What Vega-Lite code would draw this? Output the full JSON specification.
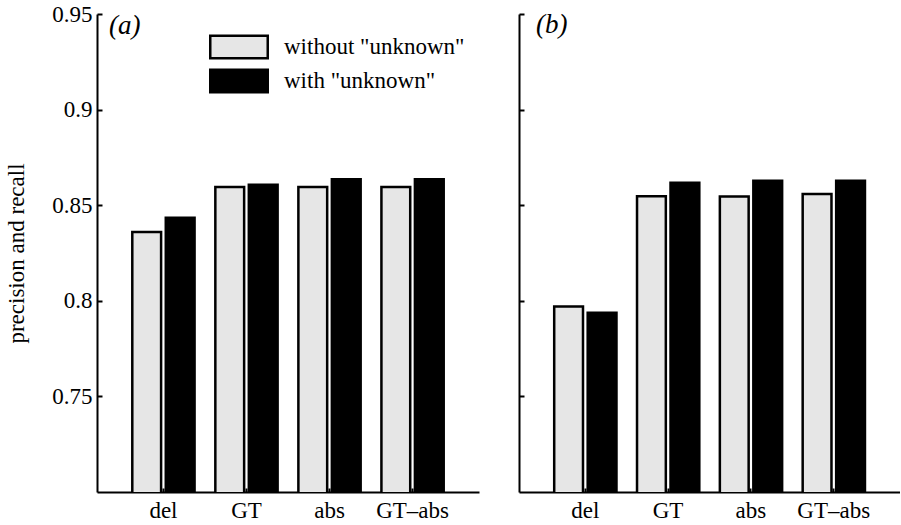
{
  "$schema": "https://vega.github.io/schema/vega-lite/v6.json",
  "padding": {"left": 5, "top": 3, "right": 0, "bottom": 0},
  "bounds": "flush",
  "spacing": 40,
  "background": "white",
  "data": {"values": [
    {"panel": "a", "method": "del", "cond": "without \"unknown\"", "value": 0.836},
    {"panel": "a", "method": "del", "cond": "with \"unknown\"", "value": 0.8435},
    {"panel": "a", "method": "GT", "cond": "without \"unknown\"", "value": 0.8595},
    {"panel": "a", "method": "GT", "cond": "with \"unknown\"", "value": 0.8607},
    {"panel": "a", "method": "abs", "cond": "without \"unknown\"", "value": 0.8595},
    {"panel": "a", "method": "abs", "cond": "with \"unknown\"", "value": 0.8636},
    {"panel": "a", "method": "GT–abs", "cond": "without \"unknown\"", "value": 0.8595},
    {"panel": "a", "method": "GT–abs", "cond": "with \"unknown\"", "value": 0.8636},
    {"panel": "b", "method": "del", "cond": "without \"unknown\"", "value": 0.797},
    {"panel": "b", "method": "del", "cond": "with \"unknown\"", "value": 0.7938},
    {"panel": "b", "method": "GT", "cond": "without \"unknown\"", "value": 0.8547},
    {"panel": "b", "method": "GT", "cond": "with \"unknown\"", "value": 0.8617},
    {"panel": "b", "method": "abs", "cond": "without \"unknown\"", "value": 0.8545},
    {"panel": "b", "method": "abs", "cond": "with \"unknown\"", "value": 0.8628},
    {"panel": "b", "method": "GT–abs", "cond": "without \"unknown\"", "value": 0.8558},
    {"panel": "b", "method": "GT–abs", "cond": "with \"unknown\"", "value": 0.8628}
  ]},
  "config": {
    "font": "Liberation Serif",
    "view": {"stroke": null},
    "axis": {"domainColor": "black", "domainWidth": 2, "tickColor": "black", "tickWidth": 2, "labelColor": "black", "labelFont": "Liberation Serif", "labelFontSize": 23, "grid": false, "titleFont": "Liberation Serif", "titleFontSize": 23, "titleFontWeight": "normal", "titleColor": "black"},
    "title": {"font": "Liberation Serif", "fontSize": 27, "fontStyle": "italic", "fontWeight": "normal", "color": "black", "anchor": "start", "frame": "group"}
  },
  "resolve": {"legend": {"color": "independent"}},
  "hconcat": [
    {
      "width": 382, "height": 478,
      "title": {"text": "(a)", "dx": 12, "offset": -37},
      "transform": [{"filter": "datum.panel === 'a'"}],
      "mark": {"type": "bar", "stroke": "black", "strokeWidth": 2.5, "clip": true},
      "encoding": {
        "x": {"field": "method", "type": "nominal", "sort": ["del", "GT", "abs", "GT–abs"], "scale": {"paddingInner": 0.25, "paddingOuter": 0.425}, "axis": {"title": null, "labelAngle": 0, "tickSize": -4, "labelPadding": 11}},
        "xOffset": {"field": "cond", "type": "nominal", "sort": ["without \"unknown\"", "with \"unknown\""], "scale": {"paddingInner": 0.14}},
        "y": {"field": "value", "type": "quantitative", "scale": {"domain": [0.7, 0.95], "zero": false, "nice": false}, "axis": {"values": [0.75, 0.8, 0.85, 0.9, 0.95], "format": ".2~f", "title": "precision and recall", "tickSize": -5, "labelPadding": 10, "titlePadding": 23}},
        "color": {"field": "cond", "type": "nominal", "sort": ["without \"unknown\"", "with \"unknown\""], "scale": {"domain": ["without \"unknown\"", "with \"unknown\""], "range": ["#e6e6e6", "#000000"]},
          "legend": {"orient": "none", "legendX": 126, "legendY": 17, "title": null, "symbolType": "M-2,-0.78H2V0.78H-2Z", "symbolSize": 826, "symbolStrokeColor": "black", "symbolStrokeWidth": 2.5, "symbolOpacity": 1, "labelFont": "Liberation Serif", "labelFontSize": 23, "labelColor": "black", "labelOffset": 29, "labelLimit": 0, "rowPadding": 0, "padding": 0}}
      }
    },
    {
      "width": 381, "height": 478,
      "title": {"text": "(b)", "dx": 17, "offset": -26},
      "transform": [{"filter": "datum.panel === 'b'"}],
      "mark": {"type": "bar", "stroke": "black", "strokeWidth": 2.5, "clip": true},
      "encoding": {
        "x": {"field": "method", "type": "nominal", "sort": ["del", "GT", "abs", "GT–abs"], "scale": {"paddingInner": 0.25, "paddingOuter": 0.425}, "axis": {"title": null, "labelAngle": 0, "tickSize": -4, "labelPadding": 11}},
        "xOffset": {"field": "cond", "type": "nominal", "sort": ["without \"unknown\"", "with \"unknown\""], "scale": {"paddingInner": 0.14}},
        "y": {"field": "value", "type": "quantitative", "scale": {"domain": [0.7, 0.95], "zero": false, "nice": false}, "axis": {"values": [0.75, 0.8, 0.85, 0.9, 0.95], "labels": false, "title": null, "tickSize": -5}},
        "color": {"field": "cond", "type": "nominal", "scale": {"domain": ["without \"unknown\"", "with \"unknown\""], "range": ["#e6e6e6", "#000000"]}, "legend": null}
      }
    }
  ]
}
